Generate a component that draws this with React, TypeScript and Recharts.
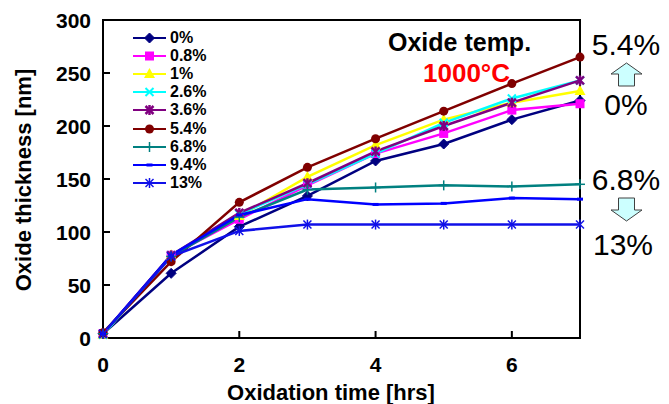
import { LineChart, Line, XAxis, YAxis, ReferenceArea, Label } from 'recharts'

const times = [0, 1, 2, 3, 4, 5, 6, 7]
const xTicks = [0, 2, 4, 6]
const yTicks = [0, 50, 100, 150, 200, 250, 300]

const seriesNames = ['0%', '0.8%', '1%', '2.6%', '3.6%', '5.4%', '6.8%', '9.4%', '13%']
const seriesColors = ['#000080', '#FF00FF', '#FFFF00', '#00FFFF', '#800080', '#800000', '#008080', '#0000FF', '#1010E8']
const seriesShapes = ['diamond', 'square', 'triangle', 'cross', 'star', 'circle', 'plus', 'dash', 'asterisk']

const s0 = [4, 61, 105, 134, 167, 183, 206, 224]
const s08 = [4, 78, 112, 144, 174, 193, 215, 221]
const s1 = [3, 78, 115, 152, 182, 206, 222, 233]
const s26 = [3, 78, 117, 145, 174, 203, 226, 243]
const s36 = [4, 78, 118, 146, 176, 200, 222, 243]
const s54 = [5, 72, 128, 161, 188, 214, 240, 265]
const s68 = [4, 77, 114, 140, 142, 144, 143, 145]
const s94 = [4, 78, 116, 131, 126, 127, 132, 131]
const s13 = [4, 77, 101, 107, 107, 107, 107, 107]

const seriesValues = [s0, s08, s1, s26, s36, s54, s68, s94, s13]

const data = times.map((t, i) => {
  const row: Record<string, number> = { t }
  seriesValues.forEach((vals, k) => { row['s' + k] = vals[i] })
  return row
})

const FONT = '"Liberation Sans", Arial, sans-serif'

function Marker({ cx, cy, shape, color }: { cx: number; cy: number; shape: string; color: string }) {
  if (cx == null || cy == null) return null
  switch (shape) {
    case 'diamond':
      return <polygon points={`${cx},${cy - 5} ${cx + 5},${cy} ${cx},${cy + 5} ${cx - 5},${cy}`} fill={color} stroke={color} />
    case 'square':
      return <rect x={cx - 4.5} y={cy - 4.5} width={9} height={9} fill={color} />
    case 'triangle':
      return <polygon points={`${cx},${cy - 6} ${cx + 5.5},${cy + 4} ${cx - 5.5},${cy + 4}`} fill={color} />
    case 'cross':
      return (
        <g stroke={color} strokeWidth={2}>
          <line x1={cx - 4} y1={cy - 4} x2={cx + 4} y2={cy + 4} />
          <line x1={cx - 4} y1={cy + 4} x2={cx + 4} y2={cy - 4} />
        </g>
      )
    case 'star':
      return (
        <g stroke={color} strokeWidth={2.5}>
          <line x1={cx - 4} y1={cy - 4} x2={cx + 4} y2={cy + 4} />
          <line x1={cx - 4} y1={cy + 4} x2={cx + 4} y2={cy - 4} />
          <line x1={cx} y1={cy - 5} x2={cx} y2={cy + 5} />
        </g>
      )
    case 'circle':
      return <circle cx={cx} cy={cy} r={4.5} fill={color} />
    case 'plus':
      return (
        <g stroke={color} strokeWidth={1.5}>
          <line x1={cx - 5} y1={cy} x2={cx + 5} y2={cy} />
          <line x1={cx} y1={cy - 5} x2={cx} y2={cy + 5} />
        </g>
      )
    case 'dash':
      return <rect x={cx - 3} y={cy - 1.5} width={6} height={3} fill={color} />
    case 'asterisk':
      return (
        <g stroke={color} strokeWidth={1.5}>
          <line x1={cx - 4} y1={cy - 4} x2={cx + 4} y2={cy + 4} />
          <line x1={cx - 4} y1={cy + 4} x2={cx + 4} y2={cy - 4} />
          <line x1={cx} y1={cy - 5} x2={cx} y2={cy + 5} />
        </g>
      )
    default:
      return null
  }
}

const YTick = (props: any) => {
  const { x, y, payload } = props
  const v = payload.value
  return (
    <g>
      {v > 0 && v < 300 && <line x1={x} x2={x + 7} y1={y} y2={y} stroke="#000" strokeWidth={2} />}
      <text x={x - 12} y={y} dy="0.36em" textAnchor="end" fontFamily={FONT} fontWeight="bold" fontSize={21} fill="#000">
        {v}
      </text>
    </g>
  )
}

const XTick = (props: any) => {
  const { x, y, payload } = props
  const v = payload.value
  return (
    <g>
      {v > 0 && <line x1={x} x2={x} y1={y} y2={y - 7} stroke="#000" strokeWidth={2} />}
      <text x={x} y={y + 34} textAnchor="middle" fontFamily={FONT} fontWeight="bold" fontSize={21} fill="#000">
        {v}
      </text>
    </g>
  )
}

function LegendBox() {
  return (
    <div style={{ position: 'absolute', left: 132, top: 29 }}>
      {seriesNames.map((name, k) => (
        <div key={name} style={{ display: 'flex', alignItems: 'center', height: 18.1 }}>
          <svg width={36} height={14}>
            <line x1={1} x2={34} y1={7} y2={7} stroke={seriesColors[k]} strokeWidth={2} />
            <Marker cx={17.5} cy={7} shape={seriesShapes[k]} color={seriesColors[k]} />
          </svg>
          <span style={{ fontFamily: FONT, fontWeight: 'bold', fontSize: 16, marginLeft: 2, color: '#000' }}>{name}</span>
        </div>
      ))}
    </div>
  )
}

function BlockArrow({ up }: { up: boolean }) {
  const pts = up
    ? '16.5,1 32,12 24.5,12 24.5,24 8.5,24 8.5,12 1,12'
    : '8.5,1 24.5,1 24.5,13 32,13 16.5,24 1,13 8.5,13'
  return (
    <svg width={34} height={26}>
      <polygon points={pts} fill="#CCFFFF" stroke="#404040" strokeWidth={1} />
    </svg>
  )
}

const bigText = { position: 'absolute' as const, fontFamily: FONT, fontSize: 30, color: '#000', width: 90, textAlign: 'center' as const, lineHeight: '30px' }

export default function App() {
  return (
    <div style={{ position: 'absolute', left: 0, top: 0, width: 669, height: 404, background: '#fff' }}>
      <LineChart width={669} height={404} data={data} margin={{ top: 20, right: 89, left: 0, bottom: 0 }}>
        <XAxis
          dataKey="t"
          type="number"
          domain={[0, 7]}
          ticks={xTicks}
          axisLine={false}
          tickLine={false}
          tickSize={0}
          tickMargin={0}
          height={66}
          tick={<XTick />}
        >
          <Label
            content={() => (
              <text x={331} y={400} textAnchor="middle" fontFamily={FONT} fontWeight="bold" fontSize={22} fill="#000">
                Oxidation time [hrs]
              </text>
            )}
          />
        </XAxis>
        <YAxis
          type="number"
          domain={[0, 300]}
          ticks={yTicks}
          axisLine={false}
          tickLine={false}
          tickSize={0}
          tickMargin={0}
          width={103}
          tick={<YTick />}
        >
          <Label
            content={() => (
              <text x={31} y={180} transform="rotate(-90 31 180)" textAnchor="middle" fontFamily={FONT} fontWeight="bold" fontSize={22} fill="#000">
                Oxide thickness [nm]
              </text>
            )}
          />
        </YAxis>
        <ReferenceArea x1={0} x2={7} y1={0} y2={300} fill="none" stroke="#000" strokeWidth={2} fillOpacity={0} />
        {seriesNames.map((name, k) => (
          <Line
            key={name}
            type="linear"
            dataKey={'s' + k}
            name={name}
            stroke={seriesColors[k]}
            strokeWidth={2.5}
            isAnimationActive={false}
            dot={(p: any) => <Marker key={p.index} cx={p.cx} cy={p.cy} shape={seriesShapes[k]} color={seriesColors[k]} />}
            activeDot={false}
          />
        ))}
      </LineChart>
      <LegendBox />
      <div style={{ position: 'absolute', left: 388, top: 28, fontFamily: FONT, fontWeight: 'bold', fontSize: 25, color: '#000', lineHeight: '28px' }}>
        Oxide temp.
      </div>
      <div style={{ position: 'absolute', left: 423, top: 59, fontFamily: FONT, fontWeight: 'bold', fontSize: 26, color: '#FF0000', lineHeight: '28px' }}>
        1000°C
      </div>
      <div style={{ ...bigText, left: 581, top: 30 }}>5.4%</div>
      <div style={{ position: 'absolute', left: 610, top: 62 }}><BlockArrow up /></div>
      <div style={{ ...bigText, left: 581, top: 90 }}>0%</div>
      <div style={{ ...bigText, left: 581, top: 165 }}>6.8%</div>
      <div style={{ position: 'absolute', left: 610, top: 197 }}><BlockArrow up={false} /></div>
      <div style={{ ...bigText, left: 578, top: 230 }}>13%</div>
    </div>
  )
}
